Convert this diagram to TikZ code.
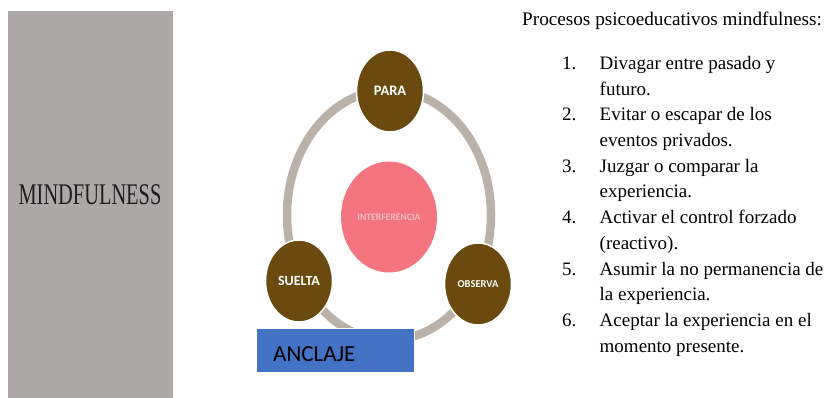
\documentclass[tikz,border=0pt]{standalone}
\usepackage{fontspec}
\setmainfont{Liberation Serif}
\newfontfamily\calibri{Carlito}
\usetikzlibrary{shapes.geometric}
\definecolor{panelgray}{HTML}{ACA8A7}
\definecolor{ringgray}{HTML}{BAB1A9}
\definecolor{brownfill}{HTML}{6A4A0E}
\definecolor{pinkfill}{HTML}{F47580}
\definecolor{pinktext}{HTML}{FBD3D8}
\definecolor{bluefill}{HTML}{4472C4}
\definecolor{mindtext}{HTML}{1E1E1E}
\tikzset{
  stage/.style={ellipse, fill=brownfill, draw=white, line width=1.5pt,
    minimum width=67pt, minimum height=82pt, inner sep=0pt, text=white},
  listnum/.style={anchor=base west, inner sep=0pt, font=\fontsize{19}{23}\selectfont},
  listtxt/.style={anchor=base west, inner sep=0pt, font=\fontsize{19}{23}\selectfont},
}
\begin{document}
\begin{tikzpicture}[x=1pt,y=-1pt]
\useasboundingbox (0,0) rectangle (830,398);
% left panel
\fill[panelgray] (7.5,10.7) rectangle (172.7,398);
\node[inner sep=0pt, text=mindtext, font=\fontsize{30}{30}\selectfont] (mind) at (90,195) {\scalebox{0.68}[1]{MINDFULNESS}};
% ring
\draw[ringgray, line width=8.5pt] (389,215) ellipse [x radius=102pt, y radius=125pt];
% center
\node[ellipse, fill=pinkfill, minimum width=96pt, minimum height=111pt, inner sep=0pt,
  text=pinktext, font=\calibri\fontsize{9.8}{10}\selectfont] (inter) at (389,217) {INTERFERENCIA};
% stages
\node[stage, font=\calibri\bfseries\fontsize{14.5}{15}\selectfont] (para) at (390,91) {PARA};
\node[stage, font=\calibri\bfseries\fontsize{14}{15}\selectfont] (suelta) at (299,281) {SUELTA};
\node[stage, font=\calibri\bfseries\fontsize{10.5}{11}\selectfont] (observa) at (478,284) {OBSERVA};
% anchor box
\node[rectangle, fill=bluefill, draw=white, line width=1pt, minimum width=158pt, minimum height=44pt,
  inner sep=0pt] (anclaje) at (335.5,350.5) {};
\node[anchor=base west, inner sep=0pt, font=\calibri\fontsize{23}{24}\selectfont] (anclajetxt) at (273,361) {ANCLAJE};
% right text
\node[anchor=base west, inner sep=0pt, font=\fontsize{19.2}{23}\selectfont] (title) at (522,26) {Procesos psicoeducativos mindfulness:};
\foreach \n/\k in {1/0,2/2,3/4,4/6,5/8,6/10}{
  \node[listnum] (num\n) at (562,{69.5+25.7*\k}) {\n.};
}
\foreach \t [count=\k from 0] in {Divagar entre pasado y, futuro., Evitar o escapar de los, eventos privados., Juzgar o comparar la, experiencia., Activar el control forzado, (reactivo)., Asumir la no permanencia de, la experiencia., Aceptar la experiencia en el, momento presente.}{
  \node[listtxt] (line\k) at (599.5,{69.5+25.7*\k}) {\t};
}
\end{tikzpicture}
\end{document}
